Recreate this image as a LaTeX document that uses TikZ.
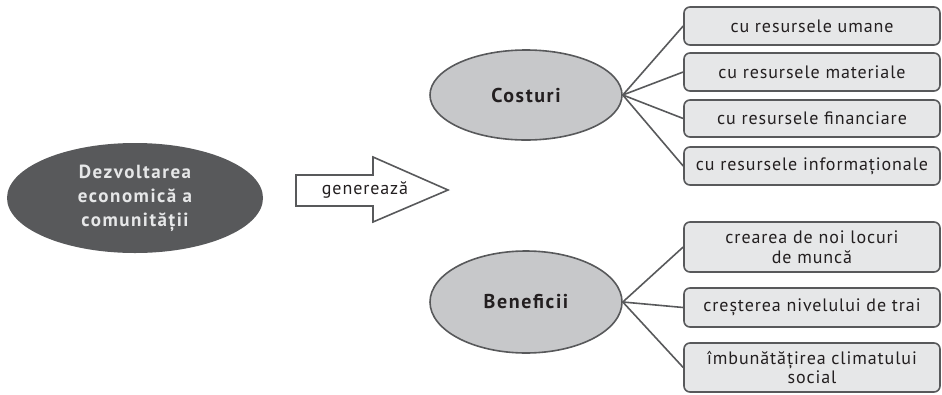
\documentclass[tikz,border=0pt]{standalone}
\usepackage{fontspec}
\setmainfont{PT Sans}[LetterSpace=5, BoldFeatures={LetterSpace=8}]
\usetikzlibrary{shapes.geometric}
\definecolor{dk}{HTML}{58595B}
\definecolor{boxfill}{HTML}{E6E7E8}
\definecolor{ellfill}{HTML}{C7C8CA}
\definecolor{txt}{HTML}{231F20}
\tikzset{
  itembox/.style={draw=dk, line width=1.6pt, fill=boxfill, rounded corners=6pt,
    minimum width=256pt, align=center, font=\fontsize{18}{19.5}\selectfont, text=txt, inner sep=0pt},
  catell/.style={ellipse, draw=dk, line width=1.6pt, fill=ellfill, minimum width=192pt,
    font=\bfseries\fontsize{20}{22}\selectfont, text=txt, inner sep=0pt},
  link/.style={draw=dk, line width=1.6pt},
}
\begin{document}
\begin{tikzpicture}[x=1pt,y=-1pt]
\useasboundingbox (0,0) rectangle (942,394);
% main ellipse
\node[ellipse, fill=dk, minimum width=256pt, minimum height=110pt, inner sep=0pt,
  text=boxfill, align=center, font=\bfseries\fontsize{19}{24}\selectfont] (main) at (135,198)
  {Dezvoltarea\\economică a\\comunității};
% arrow
\draw[draw=dk, line width=1.6pt, fill=white, line join=miter]
  (296,175) -- (373,175) -- (373,157) -- (448,190) -- (373,222) -- (373,206) -- (296,206) -- cycle;
\node[font=\fontsize{18}{19}\selectfont, text=txt] (gen) at (365,190) {generează};
% categories
\node[catell, minimum height=90pt] (cost) at (526,95) {Costuri};
\node[catell, minimum height=102pt] (ben) at (526,302) {Beneficii};
% boxes
\node[itembox, minimum height=38pt] (c1) at (812,26) {cu resursele umane};
\node[itembox, minimum height=38pt] (c2) at (812,72) {cu resursele materiale};
\node[itembox, minimum height=37pt] (c3) at (812,118.5) {cu resursele financiare};
\node[itembox, minimum height=38pt] (c4) at (812,166) {cu resursele informaționale};
\node[itembox, minimum height=50pt] (b1) at (812,247) {crearea de noi locuri\\de muncă};
\node[itembox, minimum height=39pt] (b2) at (812,307.5) {creșterea nivelului de trai};
\node[itembox, minimum height=49pt] (b3) at (812,367.5) {îmbunătățirea climatului\\social};
% links
\foreach \b in {c1,c2,c3,c4} \draw[link] (cost.east) -- (\b.west);
\foreach \b in {b1,b2,b3} \draw[link] (ben.east) -- (\b.west);
\end{tikzpicture}
\end{document}
